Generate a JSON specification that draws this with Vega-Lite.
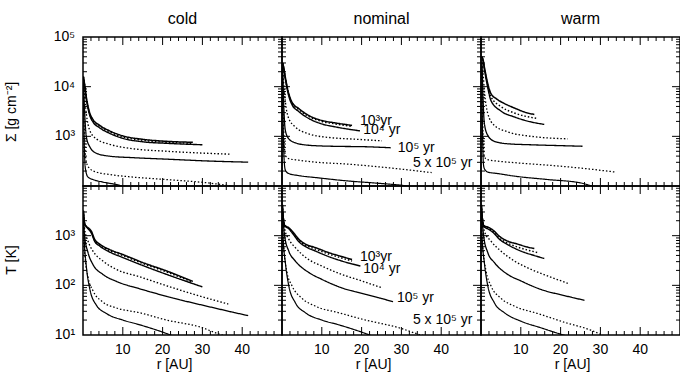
{
  "$schema": "https://vega.github.io/schema/vega-lite/v6.json",
  "padding": {"left": 4, "top": 0, "right": 0, "bottom": 0},
  "config": {
    "font": "Liberation Sans",
    "view": {"stroke": "black", "strokeWidth": 1.5},
    "tick": {"color": "black", "opacity": 1, "thickness": 1},
    "text": {"font": "Liberation Sans", "fontSize": 14, "color": "black"}
  },
  "datasets": {
    "xM": [{"v":10},{"v":20},{"v":30},{"v":40}],
    "xm": [{"v":2},{"v":4},{"v":6},{"v":8},{"v":12},{"v":14},{"v":16},{"v":18},{"v":22},{"v":24},{"v":26},{"v":28},{"v":32},{"v":34},{"v":36},{"v":38},{"v":42},{"v":44},{"v":46},{"v":48}],
    "ySM": [{"v":1000},{"v":10000}],
    "ySm": [{"v":200},{"v":300},{"v":400},{"v":500},{"v":600},{"v":700},{"v":800},{"v":900},{"v":2000},{"v":3000},{"v":4000},{"v":5000},{"v":6000},{"v":7000},{"v":8000},{"v":9000},{"v":20000},{"v":30000},{"v":40000},{"v":50000},{"v":60000},{"v":70000},{"v":80000},{"v":90000}],
    "yTM": [{"v":100},{"v":1000}],
    "yTm": [{"v":20},{"v":30},{"v":40},{"v":50},{"v":60},{"v":70},{"v":80},{"v":90},{"v":200},{"v":300},{"v":400},{"v":500},{"v":600},{"v":700},{"v":800},{"v":900},{"v":2000},{"v":3000},{"v":4000},{"v":5000},{"v":6000},{"v":7000},{"v":8000},{"v":9000}],
    "xl": [{"v":10,"t":"10"},{"v":20,"t":"20"},{"v":30,"t":"30"},{"v":40,"t":"40"}],
    "ySl": [{"v":1000,"t":"10³"},{"v":10000,"t":"10⁴"},{"v":100000,"t":"10⁵"}],
    "yTl": [{"v":10,"t":"10¹"},{"v":100,"t":"10²"},{"v":1000,"t":"10³"}],
    "cS": [
      {"s":"s1","x":0.1,"y":15850},{"s":"s1","x":0.4,"y":11220},{"s":"s1","x":0.84,"y":6166},{"s":"s1","x":1.7,"y":2951},{"s":"s1","x":2.5,"y":2188},{"s":"s1","x":4.2,"y":1660},{"s":"s1","x":6.7,"y":1288},{"s":"s1","x":10,"y":1023},{"s":"s1","x":15,"y":871},{"s":"s1","x":21,"y":794},{"s":"s1","x":27.6,"y":759},
      {"s":"d1","x":0.1,"y":15850},{"s":"d1","x":0.4,"y":10965},{"s":"d1","x":0.84,"y":5888},{"s":"d1","x":1.7,"y":2818},{"s":"d1","x":2.5,"y":2089},{"s":"d1","x":4.2,"y":1585},{"s":"d1","x":6.7,"y":1230},{"s":"d1","x":10,"y":977},{"s":"d1","x":15,"y":832},{"s":"d1","x":21,"y":759},{"s":"d1","x":27.6,"y":724},
      {"s":"s2","x":0.1,"y":15850},{"s":"s2","x":0.4,"y":10471},{"s":"s2","x":0.84,"y":5623},{"s":"s2","x":1.7,"y":2630},{"s":"s2","x":2.5,"y":1950},{"s":"s2","x":4.2,"y":1479},{"s":"s2","x":6.7,"y":1148},{"s":"s2","x":10,"y":912},{"s":"s2","x":15,"y":776},{"s":"s2","x":21,"y":724},{"s":"s2","x":30,"y":676},
      {"s":"d2","x":0.1,"y":14125},{"s":"d2","x":0.4,"y":6310},{"s":"d2","x":0.84,"y":2818},{"s":"d2","x":1.7,"y":1318},{"s":"d2","x":3.35,"y":891},{"s":"d2","x":6.7,"y":692},{"s":"d2","x":12.6,"y":562},{"s":"d2","x":21,"y":501},{"s":"d2","x":37,"y":437},
      {"s":"s3","x":0.1,"y":12589},{"s":"s3","x":0.4,"y":3162},{"s":"s3","x":0.84,"y":977},{"s":"s3","x":1.7,"y":617},{"s":"s3","x":3.35,"y":457},{"s":"s3","x":6.7,"y":398},{"s":"s3","x":12.6,"y":372},{"s":"s3","x":21,"y":347},{"s":"s3","x":32.7,"y":316},{"s":"s3","x":41.5,"y":302},
      {"s":"d3","x":0.1,"y":10000},{"s":"d3","x":0.3,"y":1585},{"s":"d3","x":0.84,"y":302},{"s":"d3","x":1.7,"y":224},{"s":"d3","x":3.35,"y":191},{"s":"d3","x":6.7,"y":170},{"s":"d3","x":12.6,"y":151},{"s":"d3","x":21,"y":135},{"s":"d3","x":32.7,"y":112},{"s":"d3","x":37,"y":100},{"s":"d3","x":38,"y":95},
      {"s":"s4","x":0.1,"y":7943},{"s":"s4","x":0.3,"y":794},{"s":"s4","x":0.6,"y":224},{"s":"s4","x":1.26,"y":151},{"s":"s4","x":2.5,"y":135},{"s":"s4","x":5,"y":120},{"s":"s4","x":8.4,"y":107},{"s":"s4","x":10,"y":100},{"s":"s4","x":11,"y":98}
    ],
    "nS": [
      {"s":"s1","x":0.15,"y":30200},{"s":"s1","x":0.4,"y":25119},{"s":"s1","x":0.84,"y":15488},{"s":"s1","x":1.7,"y":7244},{"s":"s1","x":2.5,"y":4898},{"s":"s1","x":4.2,"y":3631},{"s":"s1","x":6.7,"y":2630},{"s":"s1","x":10,"y":2089},{"s":"s1","x":13.4,"y":1862},{"s":"s1","x":17.6,"y":1660},
      {"s":"d1","x":0.15,"y":30200},{"s":"d1","x":0.4,"y":24547},{"s":"d1","x":0.84,"y":14791},{"s":"d1","x":1.7,"y":6918},{"s":"d1","x":2.5,"y":4677},{"s":"d1","x":4.2,"y":3467},{"s":"d1","x":6.7,"y":2512},{"s":"d1","x":10,"y":1995},{"s":"d1","x":13.4,"y":1778},{"s":"d1","x":17.6,"y":1585},
      {"s":"s2","x":0.15,"y":30200},{"s":"s2","x":0.4,"y":23988},{"s":"s2","x":0.84,"y":14125},{"s":"s2","x":1.7,"y":6457},{"s":"s2","x":2.5,"y":4365},{"s":"s2","x":4.2,"y":3162},{"s":"s2","x":6.7,"y":2291},{"s":"s2","x":10,"y":1778},{"s":"s2","x":13.4,"y":1549},{"s":"s2","x":19.6,"y":1288},
      {"s":"d2","x":0.15,"y":28184},{"s":"d2","x":0.4,"y":12589},{"s":"d2","x":0.84,"y":5012},{"s":"d2","x":1.7,"y":2291},{"s":"d2","x":3.35,"y":1549},{"s":"d2","x":6.7,"y":1122},{"s":"d2","x":12.6,"y":933},{"s":"d2","x":16.7,"y":891},{"s":"d2","x":25.1,"y":813},
      {"s":"s3","x":0.15,"y":25119},{"s":"s3","x":0.4,"y":5012},{"s":"s3","x":0.84,"y":1318},{"s":"s3","x":1.7,"y":891},{"s":"s3","x":3.35,"y":741},{"s":"s3","x":6.7,"y":661},{"s":"s3","x":12.6,"y":631},{"s":"s3","x":21,"y":617},{"s":"s3","x":27.3,"y":589},
      {"s":"d3","x":0.15,"y":19953},{"s":"d3","x":0.3,"y":3162},{"s":"d3","x":0.84,"y":417},{"s":"d3","x":1.7,"y":355},{"s":"d3","x":4.2,"y":331},{"s":"d3","x":8.4,"y":302},{"s":"d3","x":16.7,"y":275},{"s":"d3","x":25.1,"y":240},{"s":"d3","x":37.6,"y":186},
      {"s":"s4","x":0.15,"y":15849},{"s":"s4","x":0.3,"y":1585},{"s":"s4","x":0.6,"y":282},{"s":"s4","x":0.84,"y":209},{"s":"s4","x":1.7,"y":178},{"s":"s4","x":4.2,"y":162},{"s":"s4","x":8.4,"y":148},{"s":"s4","x":16.7,"y":126},{"s":"s4","x":25.1,"y":112},{"s":"s4","x":31.4,"y":100},{"s":"s4","x":33,"y":95}
    ],
    "wS": [
      {"s":"s1","x":0.25,"y":39811},{"s":"s1","x":0.5,"y":35481},{"s":"s1","x":0.84,"y":25119},{"s":"s1","x":1.7,"y":11482},{"s":"s1","x":2.5,"y":7244},{"s":"s1","x":3.8,"y":5754},{"s":"s1","x":5.9,"y":4571},{"s":"s1","x":8.4,"y":3715},{"s":"s1","x":10.9,"y":3090},{"s":"s1","x":13.4,"y":2754},
      {"s":"d1","x":0.25,"y":39811},{"s":"d1","x":0.5,"y":34674},{"s":"d1","x":0.84,"y":23988},{"s":"d1","x":1.7,"y":10471},{"s":"d1","x":2.5,"y":6310},{"s":"d1","x":5,"y":3981},{"s":"d1","x":8.4,"y":2951},{"s":"d1","x":14.2,"y":2291},
      {"s":"s2","x":0.25,"y":39811},{"s":"s2","x":0.5,"y":33884},{"s":"s2","x":0.84,"y":22909},{"s":"s2","x":1.7,"y":9550},{"s":"s2","x":2.5,"y":5248},{"s":"s2","x":5,"y":3236},{"s":"s2","x":8.4,"y":2455},{"s":"s2","x":12.6,"y":1950},{"s":"s2","x":15.9,"y":1738},
      {"s":"d2","x":0.25,"y":35481},{"s":"d2","x":0.5,"y":19953},{"s":"d2","x":0.84,"y":8511},{"s":"d2","x":1.7,"y":2884},{"s":"d2","x":3.35,"y":1660},{"s":"d2","x":6.7,"y":1230},{"s":"d2","x":12.6,"y":1000},{"s":"d2","x":21.8,"y":891},
      {"s":"s3","x":0.25,"y":31623},{"s":"s3","x":0.5,"y":6310},{"s":"s3","x":0.84,"y":1820},{"s":"s3","x":1.7,"y":1047},{"s":"s3","x":3.35,"y":794},{"s":"s3","x":6.7,"y":708},{"s":"s3","x":12.6,"y":676},{"s":"s3","x":21,"y":646},{"s":"s3","x":25.5,"y":631},
      {"s":"d3","x":0.2,"y":25119},{"s":"d3","x":0.4,"y":2512},{"s":"d3","x":0.84,"y":380},{"s":"d3","x":1.7,"y":339},{"s":"d3","x":4.2,"y":316},{"s":"d3","x":8.4,"y":295},{"s":"d3","x":16.7,"y":263},{"s":"d3","x":25.1,"y":229},{"s":"d3","x":33.7,"y":191},
      {"s":"s4","x":0.2,"y":19953},{"s":"s4","x":0.4,"y":1000},{"s":"s4","x":0.6,"y":282},{"s":"s4","x":0.84,"y":224},{"s":"s4","x":1.7,"y":191},{"s":"s4","x":4.2,"y":178},{"s":"s4","x":8.4,"y":158},{"s":"s4","x":16.7,"y":135},{"s":"s4","x":25.1,"y":115},{"s":"s4","x":28,"y":100},{"s":"s4","x":30,"y":93}
    ],
    "cT": [
      {"s":"s1","x":0.1,"y":3162},{"s":"s1","x":0.4,"y":1778},{"s":"s1","x":0.8,"y":1549},{"s":"s1","x":1.26,"y":1445},{"s":"s1","x":2.1,"y":1230},{"s":"s1","x":2.9,"y":851},{"s":"s1","x":4.2,"y":676},{"s":"s1","x":6.7,"y":525},{"s":"s1","x":10,"y":417},{"s":"s1","x":15,"y":288},{"s":"s1","x":21,"y":195},{"s":"s1","x":27.6,"y":120},
      {"s":"d1","x":0.1,"y":3162},{"s":"d1","x":0.4,"y":1778},{"s":"d1","x":0.8,"y":1549},{"s":"d1","x":1.26,"y":1413},{"s":"d1","x":2.1,"y":1175},{"s":"d1","x":2.9,"y":813},{"s":"d1","x":4.2,"y":646},{"s":"d1","x":6.7,"y":501},{"s":"d1","x":10,"y":398},{"s":"d1","x":15,"y":275},{"s":"d1","x":21,"y":186},{"s":"d1","x":27.6,"y":115},
      {"s":"s2","x":0.1,"y":3162},{"s":"s2","x":0.4,"y":1778},{"s":"s2","x":0.8,"y":1514},{"s":"s2","x":1.26,"y":1380},{"s":"s2","x":2.1,"y":1122},{"s":"s2","x":2.9,"y":776},{"s":"s2","x":4.2,"y":617},{"s":"s2","x":6.7,"y":468},{"s":"s2","x":10,"y":363},{"s":"s2","x":15,"y":251},{"s":"s2","x":21,"y":166},{"s":"s2","x":30,"y":93},
      {"s":"d2","x":0.1,"y":2818},{"s":"d2","x":0.42,"y":1349},{"s":"d2","x":1.26,"y":776},{"s":"d2","x":2.5,"y":490},{"s":"d2","x":5,"y":309},{"s":"d2","x":8.4,"y":209},{"s":"d2","x":14.3,"y":148},{"s":"d2","x":21,"y":98},{"s":"d2","x":29,"y":62},{"s":"d2","x":36.5,"y":42},
      {"s":"s3","x":0.1,"y":2512},{"s":"s3","x":0.42,"y":977},{"s":"s3","x":1.26,"y":457},{"s":"s3","x":2.5,"y":263},{"s":"s3","x":5,"y":166},{"s":"s3","x":8.4,"y":120},{"s":"s3","x":14.3,"y":85},{"s":"s3","x":21,"y":60},{"s":"s3","x":32.7,"y":35.5},{"s":"s3","x":41.5,"y":24.5},
      {"s":"d3","x":0.1,"y":1995},{"s":"d3","x":0.42,"y":457},{"s":"d3","x":1.26,"y":145},{"s":"d3","x":2.5,"y":78},{"s":"d3","x":5,"y":46},{"s":"d3","x":8.4,"y":35},{"s":"d3","x":14.3,"y":28},{"s":"d3","x":21,"y":20},{"s":"d3","x":29.4,"y":14.5},{"s":"d3","x":35,"y":10},{"s":"d3","x":37,"y":9.2},
      {"s":"s4","x":0.1,"y":1995},{"s":"s4","x":0.25,"y":977},{"s":"s4","x":0.84,"y":240},{"s":"s4","x":1.7,"y":85},{"s":"s4","x":3.35,"y":40},{"s":"s4","x":5.9,"y":27},{"s":"s4","x":10,"y":20},{"s":"s4","x":14.3,"y":16},{"s":"s4","x":21,"y":10.7},{"s":"s4","x":23,"y":9.3}
    ],
    "nT": [
      {"s":"s1","x":0.1,"y":4169},{"s":"s1","x":0.4,"y":1995},{"s":"s1","x":0.67,"y":1622},{"s":"s1","x":1.7,"y":1445},{"s":"s1","x":2.9,"y":1148},{"s":"s1","x":4.2,"y":851},{"s":"s1","x":5.9,"y":676},{"s":"s1","x":8.4,"y":575},{"s":"s1","x":11.7,"y":457},{"s":"s1","x":15,"y":380},{"s":"s1","x":17.6,"y":331},
      {"s":"d1","x":0.1,"y":4169},{"s":"d1","x":0.4,"y":1995},{"s":"d1","x":0.67,"y":1622},{"s":"d1","x":1.7,"y":1413},{"s":"d1","x":2.9,"y":1096},{"s":"d1","x":4.2,"y":813},{"s":"d1","x":5.9,"y":646},{"s":"d1","x":8.4,"y":537},{"s":"d1","x":11.7,"y":427},{"s":"d1","x":15,"y":355},{"s":"d1","x":17.6,"y":309},
      {"s":"s2","x":0.1,"y":4169},{"s":"s2","x":0.4,"y":1995},{"s":"s2","x":0.67,"y":1585},{"s":"s2","x":1.7,"y":1380},{"s":"s2","x":2.9,"y":1047},{"s":"s2","x":4.2,"y":759},{"s":"s2","x":5.9,"y":603},{"s":"s2","x":8.4,"y":490},{"s":"s2","x":11.7,"y":380},{"s":"s2","x":15,"y":309},{"s":"s2","x":19.7,"y":245},
      {"s":"d2","x":0.1,"y":3548},{"s":"d2","x":0.67,"y":1349},{"s":"d2","x":1.7,"y":851},{"s":"d2","x":3.35,"y":575},{"s":"d2","x":6.7,"y":331},{"s":"d2","x":10,"y":245},{"s":"d2","x":15,"y":166},{"s":"d2","x":20,"y":123},{"s":"d2","x":25.1,"y":89},
      {"s":"s3","x":0.1,"y":3162},{"s":"s3","x":0.67,"y":977},{"s":"s3","x":1.7,"y":490},{"s":"s3","x":3.35,"y":309},{"s":"s3","x":6.7,"y":182},{"s":"s3","x":10,"y":132},{"s":"s3","x":15,"y":89},{"s":"s3","x":21,"y":66},{"s":"s3","x":27.9,"y":47},
      {"s":"d3","x":0.1,"y":2512},{"s":"d3","x":0.42,"y":617},{"s":"d3","x":1.26,"y":182},{"s":"d3","x":2.5,"y":98},{"s":"d3","x":5,"y":55},{"s":"d3","x":8.4,"y":38},{"s":"d3","x":14.3,"y":28},{"s":"d3","x":21,"y":20},{"s":"d3","x":29.4,"y":14},{"s":"d3","x":35,"y":10},{"s":"d3","x":37,"y":9.2},
      {"s":"s4","x":0.1,"y":2239},{"s":"s4","x":0.25,"y":977},{"s":"s4","x":0.84,"y":288},{"s":"s4","x":1.7,"y":98},{"s":"s4","x":3.35,"y":44.7},{"s":"s4","x":5.9,"y":28},{"s":"s4","x":10,"y":20},{"s":"s4","x":14.3,"y":16},{"s":"s4","x":21,"y":10.7},{"s":"s4","x":23,"y":9.3}
    ],
    "wT": [
      {"s":"s1","x":0.1,"y":4169},{"s":"s1","x":0.4,"y":1995},{"s":"s1","x":0.67,"y":1622},{"s":"s1","x":2.1,"y":1445},{"s":"s1","x":3.35,"y":1230},{"s":"s1","x":4.6,"y":977},{"s":"s1","x":6.7,"y":776},{"s":"s1","x":9.2,"y":676},{"s":"s1","x":11.7,"y":589},{"s":"s1","x":13.4,"y":550},
      {"s":"d1","x":0.1,"y":4169},{"s":"d1","x":0.4,"y":1995},{"s":"d1","x":0.67,"y":1585},{"s":"d1","x":2.1,"y":1380},{"s":"d1","x":3.35,"y":1148},{"s":"d1","x":4.6,"y":891},{"s":"d1","x":6.7,"y":708},{"s":"d1","x":9.2,"y":589},{"s":"d1","x":11.7,"y":513},{"s":"d1","x":14.2,"y":457},
      {"s":"s2","x":0.1,"y":4169},{"s":"s2","x":0.4,"y":1995},{"s":"s2","x":0.67,"y":1549},{"s":"s2","x":2.1,"y":1318},{"s":"s2","x":3.35,"y":1096},{"s":"s2","x":4.6,"y":851},{"s":"s2","x":6.7,"y":661},{"s":"s2","x":10,"y":490},{"s":"s2","x":13.4,"y":398},{"s":"s2","x":15.9,"y":347},
      {"s":"d2","x":0.1,"y":3548},{"s":"d2","x":0.84,"y":1230},{"s":"d2","x":2.5,"y":776},{"s":"d2","x":5,"y":490},{"s":"d2","x":8.4,"y":309},{"s":"d2","x":12.6,"y":209},{"s":"d2","x":16.7,"y":155},{"s":"d2","x":21.8,"y":110},
      {"s":"s3","x":0.1,"y":3162},{"s":"s3","x":0.67,"y":977},{"s":"s3","x":1.7,"y":457},{"s":"s3","x":3.35,"y":288},{"s":"s3","x":6.7,"y":166},{"s":"s3","x":10,"y":123},{"s":"s3","x":15,"y":83},{"s":"s3","x":21,"y":62},{"s":"s3","x":26,"y":50},
      {"s":"d3","x":0.1,"y":2512},{"s":"d3","x":0.42,"y":617},{"s":"d3","x":1.26,"y":195},{"s":"d3","x":2.5,"y":98},{"s":"d3","x":5,"y":55},{"s":"d3","x":8.4,"y":38},{"s":"d3","x":14.3,"y":27},{"s":"d3","x":21,"y":18},{"s":"d3","x":27.6,"y":12.5},{"s":"d3","x":31,"y":9.5},
      {"s":"s4","x":0.1,"y":2239},{"s":"s4","x":0.25,"y":977},{"s":"s4","x":0.84,"y":288},{"s":"s4","x":1.7,"y":98},{"s":"s4","x":3.35,"y":44.7},{"s":"s4","x":5.9,"y":28},{"s":"s4","x":10,"y":19},{"s":"s4","x":15,"y":14},{"s":"s4","x":19,"y":11},{"s":"s4","x":22,"y":9.3}
    ],
    "nLS": [
      {"t":"10³yr","x":19.6,"y":1995},{"t":"10⁴ yr","x":20.4,"y":1318},{"t":"10⁵ yr","x":29.1,"y":589},{"t":"5 x 10⁵ yr","x":32.9,"y":288}
    ],
    "nLT": [
      {"t":"10³yr","x":19.6,"y":372},{"t":"10⁴ yr","x":20.4,"y":214},{"t":"10⁵ yr","x":28.9,"y":56},{"t":"5 x 10⁵ yr","x":32.9,"y":20}
    ]
  },
  "columns": 3,
  "spacing": 0,
  "bounds": "flush",
  "concat": [
    {"width": 199, "height": 37, "data": {"values": [{"m": "cold"}]}, "mark": {"type": "text", "fontSize": 16}, "encoding": {"text": {"field": "m"}}},
    {"width": 199, "height": 37, "data": {"values": [{"m": "nominal"}]}, "mark": {"type": "text", "fontSize": 16}, "encoding": {"text": {"field": "m"}}},
    {"width": 199, "height": 37, "data": {"values": [{"m": "warm"}]}, "mark": {"type": "text", "fontSize": 16}, "encoding": {"text": {"field": "m"}}},

    {"width": 199, "height": 149,
     "layer": [
      {"data": {"name": "cS"}, "mark": {"type": "line", "color": "black", "clip": true, "interpolate": "monotone"},
       "encoding": {
        "x": {"field": "x", "type": "quantitative", "scale": {"domain": [0, 50]}, "axis": null},
        "y": {"field": "y", "type": "quantitative", "scale": {"type": "log", "domain": [100, 100000]}, "axis": null},
        "strokeDash": {"field": "s", "type": "nominal", "scale": {"domain": ["s1","d1","s2","d2","s3","d3","s4"], "range": [[1,0],[1.5,2],[1,0],[1.5,2],[1,0],[1.5,2],[1,0]]}, "legend": null},
        "strokeWidth": {"field": "s", "type": "nominal", "scale": {"domain": ["s1","d1","s2","d2","s3","d3","s4"], "range": [1.5,1.2,1.5,1.2,1.5,1.2,1.5]}, "legend": null}
       }},
      {"data": {"name": "ySl"}, "mark": {"type": "text", "align": "right", "baseline": "middle"}, "encoding": {"x": {"datum": -2, "type": "quantitative", "axis": null}, "y": {"field": "v", "type": "quantitative", "axis": null}, "text": {"field": "t"}}},
      {"data": {"values": [{"t": "Σ [g cm⁻²]"}]}, "mark": {"type": "text", "angle": 270, "align": "center", "baseline": "middle"}, "encoding": {"x": {"datum": -17.8, "type": "quantitative", "axis": null}, "y": {"datum": 3100, "type": "quantitative", "axis": null}, "text": {"field": "t"}}},
      {"data": {"name": "xM"}, "mark": {"type": "tick", "orient": "vertical", "size": 8}, "encoding": {"x": {"field": "v", "type": "quantitative", "axis": null}, "y": {"datum": 83000, "type": "quantitative", "axis": null}}},
      {"data": {"name": "xm"}, "mark": {"type": "tick", "orient": "vertical", "size": 4}, "encoding": {"x": {"field": "v", "type": "quantitative", "axis": null}, "y": {"datum": 91150, "type": "quantitative", "axis": null}}},
      {"data": {"name": "xM"}, "mark": {"type": "tick", "orient": "vertical", "size": 8}, "encoding": {"x": {"field": "v", "type": "quantitative", "axis": null}, "y": {"datum": 120.4, "type": "quantitative", "axis": null}}},
      {"data": {"name": "xm"}, "mark": {"type": "tick", "orient": "vertical", "size": 4}, "encoding": {"x": {"field": "v", "type": "quantitative", "axis": null}, "y": {"datum": 109.7, "type": "quantitative", "axis": null}}},
      {"data": {"name": "ySM"}, "mark": {"type": "tick", "orient": "horizontal", "size": 8}, "encoding": {"y": {"field": "v", "type": "quantitative", "axis": null}, "x": {"datum": 1.0, "type": "quantitative", "axis": null}}},
      {"data": {"name": "ySm"}, "mark": {"type": "tick", "orient": "horizontal", "size": 4}, "encoding": {"y": {"field": "v", "type": "quantitative", "axis": null}, "x": {"datum": 0.5, "type": "quantitative", "axis": null}}},
      {"data": {"name": "ySM"}, "mark": {"type": "tick", "orient": "horizontal", "size": 8}, "encoding": {"y": {"field": "v", "type": "quantitative", "axis": null}, "x": {"datum": 49.0, "type": "quantitative", "axis": null}}},
      {"data": {"name": "ySm"}, "mark": {"type": "tick", "orient": "horizontal", "size": 4}, "encoding": {"y": {"field": "v", "type": "quantitative", "axis": null}, "x": {"datum": 49.5, "type": "quantitative", "axis": null}}}
     ]
    },

    {"width": 199, "height": 149,
     "layer": [
      {"data": {"name": "nS"}, "mark": {"type": "line", "color": "black", "clip": true, "interpolate": "monotone"},
       "encoding": {
        "x": {"field": "x", "type": "quantitative", "scale": {"domain": [0, 50]}, "axis": null},
        "y": {"field": "y", "type": "quantitative", "scale": {"type": "log", "domain": [100, 100000]}, "axis": null},
        "strokeDash": {"field": "s", "type": "nominal", "scale": {"domain": ["s1","d1","s2","d2","s3","d3","s4"], "range": [[1,0],[1.5,2],[1,0],[1.5,2],[1,0],[1.5,2],[1,0]]}, "legend": null},
        "strokeWidth": {"field": "s", "type": "nominal", "scale": {"domain": ["s1","d1","s2","d2","s3","d3","s4"], "range": [1.5,1.2,1.5,1.2,1.5,1.2,1.5]}, "legend": null}
       }},
      {"data": {"name": "nLS"}, "mark": {"type": "text", "align": "left", "baseline": "middle"},
       "encoding": {"x": {"field": "x", "type": "quantitative", "axis": null}, "y": {"field": "y", "type": "quantitative", "axis": null}, "text": {"field": "t"}}},
      {"data": {"name": "xM"}, "mark": {"type": "tick", "orient": "vertical", "size": 8}, "encoding": {"x": {"field": "v", "type": "quantitative", "axis": null}, "y": {"datum": 83000, "type": "quantitative", "axis": null}}},
      {"data": {"name": "xm"}, "mark": {"type": "tick", "orient": "vertical", "size": 4}, "encoding": {"x": {"field": "v", "type": "quantitative", "axis": null}, "y": {"datum": 91150, "type": "quantitative", "axis": null}}},
      {"data": {"name": "xM"}, "mark": {"type": "tick", "orient": "vertical", "size": 8}, "encoding": {"x": {"field": "v", "type": "quantitative", "axis": null}, "y": {"datum": 120.4, "type": "quantitative", "axis": null}}},
      {"data": {"name": "xm"}, "mark": {"type": "tick", "orient": "vertical", "size": 4}, "encoding": {"x": {"field": "v", "type": "quantitative", "axis": null}, "y": {"datum": 109.7, "type": "quantitative", "axis": null}}},
      {"data": {"name": "ySM"}, "mark": {"type": "tick", "orient": "horizontal", "size": 8}, "encoding": {"y": {"field": "v", "type": "quantitative", "axis": null}, "x": {"datum": 1.0, "type": "quantitative", "axis": null}}},
      {"data": {"name": "ySm"}, "mark": {"type": "tick", "orient": "horizontal", "size": 4}, "encoding": {"y": {"field": "v", "type": "quantitative", "axis": null}, "x": {"datum": 0.5, "type": "quantitative", "axis": null}}},
      {"data": {"name": "ySM"}, "mark": {"type": "tick", "orient": "horizontal", "size": 8}, "encoding": {"y": {"field": "v", "type": "quantitative", "axis": null}, "x": {"datum": 49.0, "type": "quantitative", "axis": null}}},
      {"data": {"name": "ySm"}, "mark": {"type": "tick", "orient": "horizontal", "size": 4}, "encoding": {"y": {"field": "v", "type": "quantitative", "axis": null}, "x": {"datum": 49.5, "type": "quantitative", "axis": null}}}
     ]
    },

    {"width": 199, "height": 149,
     "layer": [
      {"data": {"name": "wS"}, "mark": {"type": "line", "color": "black", "clip": true, "interpolate": "monotone"},
       "encoding": {
        "x": {"field": "x", "type": "quantitative", "scale": {"domain": [0, 50]}, "axis": null},
        "y": {"field": "y", "type": "quantitative", "scale": {"type": "log", "domain": [100, 100000]}, "axis": null},
        "strokeDash": {"field": "s", "type": "nominal", "scale": {"domain": ["s1","d1","s2","d2","s3","d3","s4"], "range": [[1,0],[1.5,2],[1,0],[1.5,2],[1,0],[1.5,2],[1,0]]}, "legend": null},
        "strokeWidth": {"field": "s", "type": "nominal", "scale": {"domain": ["s1","d1","s2","d2","s3","d3","s4"], "range": [1.5,1.2,1.5,1.2,1.5,1.2,1.5]}, "legend": null}
       }},
      {"data": {"name": "xM"}, "mark": {"type": "tick", "orient": "vertical", "size": 8}, "encoding": {"x": {"field": "v", "type": "quantitative", "axis": null}, "y": {"datum": 83000, "type": "quantitative", "axis": null}}},
      {"data": {"name": "xm"}, "mark": {"type": "tick", "orient": "vertical", "size": 4}, "encoding": {"x": {"field": "v", "type": "quantitative", "axis": null}, "y": {"datum": 91150, "type": "quantitative", "axis": null}}},
      {"data": {"name": "xM"}, "mark": {"type": "tick", "orient": "vertical", "size": 8}, "encoding": {"x": {"field": "v", "type": "quantitative", "axis": null}, "y": {"datum": 120.4, "type": "quantitative", "axis": null}}},
      {"data": {"name": "xm"}, "mark": {"type": "tick", "orient": "vertical", "size": 4}, "encoding": {"x": {"field": "v", "type": "quantitative", "axis": null}, "y": {"datum": 109.7, "type": "quantitative", "axis": null}}},
      {"data": {"name": "ySM"}, "mark": {"type": "tick", "orient": "horizontal", "size": 8}, "encoding": {"y": {"field": "v", "type": "quantitative", "axis": null}, "x": {"datum": 1.0, "type": "quantitative", "axis": null}}},
      {"data": {"name": "ySm"}, "mark": {"type": "tick", "orient": "horizontal", "size": 4}, "encoding": {"y": {"field": "v", "type": "quantitative", "axis": null}, "x": {"datum": 0.5, "type": "quantitative", "axis": null}}},
      {"data": {"name": "ySM"}, "mark": {"type": "tick", "orient": "horizontal", "size": 8}, "encoding": {"y": {"field": "v", "type": "quantitative", "axis": null}, "x": {"datum": 49.0, "type": "quantitative", "axis": null}}},
      {"data": {"name": "ySm"}, "mark": {"type": "tick", "orient": "horizontal", "size": 4}, "encoding": {"y": {"field": "v", "type": "quantitative", "axis": null}, "x": {"datum": 49.5, "type": "quantitative", "axis": null}}}
     ]
    },

    {"width": 199, "height": 149,
     "layer": [
      {"data": {"name": "cT"}, "mark": {"type": "line", "color": "black", "clip": true, "interpolate": "monotone"},
       "encoding": {
        "x": {"field": "x", "type": "quantitative", "scale": {"domain": [0, 50]}, "axis": null},
        "y": {"field": "y", "type": "quantitative", "scale": {"type": "log", "domain": [10, 10000]}, "axis": null},
        "strokeDash": {"field": "s", "type": "nominal", "scale": {"domain": ["s1","d1","s2","d2","s3","d3","s4"], "range": [[1,0],[1.5,2],[1,0],[1.5,2],[1,0],[1.5,2],[1,0]]}, "legend": null},
        "strokeWidth": {"field": "s", "type": "nominal", "scale": {"domain": ["s1","d1","s2","d2","s3","d3","s4"], "range": [1.5,1.2,1.5,1.2,1.5,1.2,1.5]}, "legend": null}
       }},
      {"data": {"name": "yTl"}, "mark": {"type": "text", "align": "right", "baseline": "middle"}, "encoding": {"x": {"datum": -2, "type": "quantitative", "axis": null}, "y": {"field": "v", "type": "quantitative", "axis": null}, "text": {"field": "t"}}},
      {"data": {"values": [{"t": "T [K]"}]}, "mark": {"type": "text", "angle": 270, "align": "center", "baseline": "middle"}, "encoding": {"x": {"datum": -17.8, "type": "quantitative", "axis": null}, "y": {"datum": 324, "type": "quantitative", "axis": null}, "text": {"field": "t"}}},
      {"data": {"name": "xl"}, "mark": {"type": "text", "align": "center", "baseline": "top"}, "encoding": {"x": {"field": "v", "type": "quantitative", "axis": null}, "y": {"datum": 7.0, "type": "quantitative", "axis": null}, "text": {"field": "t"}}},
      {"data": {"values": [{"t": "r  [AU]"}]}, "mark": {"type": "text", "align": "center", "baseline": "top"}, "encoding": {"x": {"datum": 23, "type": "quantitative", "axis": null}, "y": {"datum": 3.45, "type": "quantitative", "axis": null}, "text": {"field": "t"}}},
      {"data": {"name": "xM"}, "mark": {"type": "tick", "orient": "vertical", "size": 8}, "encoding": {"x": {"field": "v", "type": "quantitative", "axis": null}, "y": {"datum": 8306, "type": "quantitative", "axis": null}}},
      {"data": {"name": "xm"}, "mark": {"type": "tick", "orient": "vertical", "size": 4}, "encoding": {"x": {"field": "v", "type": "quantitative", "axis": null}, "y": {"datum": 9115, "type": "quantitative", "axis": null}}},
      {"data": {"name": "xM"}, "mark": {"type": "tick", "orient": "vertical", "size": 8}, "encoding": {"x": {"field": "v", "type": "quantitative", "axis": null}, "y": {"datum": 12.04, "type": "quantitative", "axis": null}}},
      {"data": {"name": "xm"}, "mark": {"type": "tick", "orient": "vertical", "size": 4}, "encoding": {"x": {"field": "v", "type": "quantitative", "axis": null}, "y": {"datum": 10.97, "type": "quantitative", "axis": null}}},
      {"data": {"name": "yTM"}, "mark": {"type": "tick", "orient": "horizontal", "size": 8}, "encoding": {"y": {"field": "v", "type": "quantitative", "axis": null}, "x": {"datum": 1.0, "type": "quantitative", "axis": null}}},
      {"data": {"name": "yTm"}, "mark": {"type": "tick", "orient": "horizontal", "size": 4}, "encoding": {"y": {"field": "v", "type": "quantitative", "axis": null}, "x": {"datum": 0.5, "type": "quantitative", "axis": null}}},
      {"data": {"name": "yTM"}, "mark": {"type": "tick", "orient": "horizontal", "size": 8}, "encoding": {"y": {"field": "v", "type": "quantitative", "axis": null}, "x": {"datum": 49.0, "type": "quantitative", "axis": null}}},
      {"data": {"name": "yTm"}, "mark": {"type": "tick", "orient": "horizontal", "size": 4}, "encoding": {"y": {"field": "v", "type": "quantitative", "axis": null}, "x": {"datum": 49.5, "type": "quantitative", "axis": null}}}
     ]
    },

    {"width": 199, "height": 149,
     "layer": [
      {"data": {"name": "nT"}, "mark": {"type": "line", "color": "black", "clip": true, "interpolate": "monotone"},
       "encoding": {
        "x": {"field": "x", "type": "quantitative", "scale": {"domain": [0, 50]}, "axis": null},
        "y": {"field": "y", "type": "quantitative", "scale": {"type": "log", "domain": [10, 10000]}, "axis": null},
        "strokeDash": {"field": "s", "type": "nominal", "scale": {"domain": ["s1","d1","s2","d2","s3","d3","s4"], "range": [[1,0],[1.5,2],[1,0],[1.5,2],[1,0],[1.5,2],[1,0]]}, "legend": null},
        "strokeWidth": {"field": "s", "type": "nominal", "scale": {"domain": ["s1","d1","s2","d2","s3","d3","s4"], "range": [1.5,1.2,1.5,1.2,1.5,1.2,1.5]}, "legend": null}
       }},
      {"data": {"name": "nLT"}, "mark": {"type": "text", "align": "left", "baseline": "middle"},
       "encoding": {"x": {"field": "x", "type": "quantitative", "axis": null}, "y": {"field": "y", "type": "quantitative", "axis": null}, "text": {"field": "t"}}},
      {"data": {"name": "xl"}, "mark": {"type": "text", "align": "center", "baseline": "top"}, "encoding": {"x": {"field": "v", "type": "quantitative", "axis": null}, "y": {"datum": 7.0, "type": "quantitative", "axis": null}, "text": {"field": "t"}}},
      {"data": {"values": [{"t": "r  [AU]"}]}, "mark": {"type": "text", "align": "center", "baseline": "top"}, "encoding": {"x": {"datum": 23, "type": "quantitative", "axis": null}, "y": {"datum": 3.45, "type": "quantitative", "axis": null}, "text": {"field": "t"}}},
      {"data": {"name": "xM"}, "mark": {"type": "tick", "orient": "vertical", "size": 8}, "encoding": {"x": {"field": "v", "type": "quantitative", "axis": null}, "y": {"datum": 8306, "type": "quantitative", "axis": null}}},
      {"data": {"name": "xm"}, "mark": {"type": "tick", "orient": "vertical", "size": 4}, "encoding": {"x": {"field": "v", "type": "quantitative", "axis": null}, "y": {"datum": 9115, "type": "quantitative", "axis": null}}},
      {"data": {"name": "xM"}, "mark": {"type": "tick", "orient": "vertical", "size": 8}, "encoding": {"x": {"field": "v", "type": "quantitative", "axis": null}, "y": {"datum": 12.04, "type": "quantitative", "axis": null}}},
      {"data": {"name": "xm"}, "mark": {"type": "tick", "orient": "vertical", "size": 4}, "encoding": {"x": {"field": "v", "type": "quantitative", "axis": null}, "y": {"datum": 10.97, "type": "quantitative", "axis": null}}},
      {"data": {"name": "yTM"}, "mark": {"type": "tick", "orient": "horizontal", "size": 8}, "encoding": {"y": {"field": "v", "type": "quantitative", "axis": null}, "x": {"datum": 1.0, "type": "quantitative", "axis": null}}},
      {"data": {"name": "yTm"}, "mark": {"type": "tick", "orient": "horizontal", "size": 4}, "encoding": {"y": {"field": "v", "type": "quantitative", "axis": null}, "x": {"datum": 0.5, "type": "quantitative", "axis": null}}},
      {"data": {"name": "yTM"}, "mark": {"type": "tick", "orient": "horizontal", "size": 8}, "encoding": {"y": {"field": "v", "type": "quantitative", "axis": null}, "x": {"datum": 49.0, "type": "quantitative", "axis": null}}},
      {"data": {"name": "yTm"}, "mark": {"type": "tick", "orient": "horizontal", "size": 4}, "encoding": {"y": {"field": "v", "type": "quantitative", "axis": null}, "x": {"datum": 49.5, "type": "quantitative", "axis": null}}}
     ]
    },

    {"width": 199, "height": 149,
     "layer": [
      {"data": {"name": "wT"}, "mark": {"type": "line", "color": "black", "clip": true, "interpolate": "monotone"},
       "encoding": {
        "x": {"field": "x", "type": "quantitative", "scale": {"domain": [0, 50]}, "axis": null},
        "y": {"field": "y", "type": "quantitative", "scale": {"type": "log", "domain": [10, 10000]}, "axis": null},
        "strokeDash": {"field": "s", "type": "nominal", "scale": {"domain": ["s1","d1","s2","d2","s3","d3","s4"], "range": [[1,0],[1.5,2],[1,0],[1.5,2],[1,0],[1.5,2],[1,0]]}, "legend": null},
        "strokeWidth": {"field": "s", "type": "nominal", "scale": {"domain": ["s1","d1","s2","d2","s3","d3","s4"], "range": [1.5,1.2,1.5,1.2,1.5,1.2,1.5]}, "legend": null}
       }},
      {"data": {"name": "xl"}, "mark": {"type": "text", "align": "center", "baseline": "top"}, "encoding": {"x": {"field": "v", "type": "quantitative", "axis": null}, "y": {"datum": 7.0, "type": "quantitative", "axis": null}, "text": {"field": "t"}}},
      {"data": {"values": [{"t": "r  [AU]"}]}, "mark": {"type": "text", "align": "center", "baseline": "top"}, "encoding": {"x": {"datum": 23, "type": "quantitative", "axis": null}, "y": {"datum": 3.45, "type": "quantitative", "axis": null}, "text": {"field": "t"}}},
      {"data": {"name": "xM"}, "mark": {"type": "tick", "orient": "vertical", "size": 8}, "encoding": {"x": {"field": "v", "type": "quantitative", "axis": null}, "y": {"datum": 8306, "type": "quantitative", "axis": null}}},
      {"data": {"name": "xm"}, "mark": {"type": "tick", "orient": "vertical", "size": 4}, "encoding": {"x": {"field": "v", "type": "quantitative", "axis": null}, "y": {"datum": 9115, "type": "quantitative", "axis": null}}},
      {"data": {"name": "xM"}, "mark": {"type": "tick", "orient": "vertical", "size": 8}, "encoding": {"x": {"field": "v", "type": "quantitative", "axis": null}, "y": {"datum": 12.04, "type": "quantitative", "axis": null}}},
      {"data": {"name": "xm"}, "mark": {"type": "tick", "orient": "vertical", "size": 4}, "encoding": {"x": {"field": "v", "type": "quantitative", "axis": null}, "y": {"datum": 10.97, "type": "quantitative", "axis": null}}},
      {"data": {"name": "yTM"}, "mark": {"type": "tick", "orient": "horizontal", "size": 8}, "encoding": {"y": {"field": "v", "type": "quantitative", "axis": null}, "x": {"datum": 1.0, "type": "quantitative", "axis": null}}},
      {"data": {"name": "yTm"}, "mark": {"type": "tick", "orient": "horizontal", "size": 4}, "encoding": {"y": {"field": "v", "type": "quantitative", "axis": null}, "x": {"datum": 0.5, "type": "quantitative", "axis": null}}},
      {"data": {"name": "yTM"}, "mark": {"type": "tick", "orient": "horizontal", "size": 8}, "encoding": {"y": {"field": "v", "type": "quantitative", "axis": null}, "x": {"datum": 49.0, "type": "quantitative", "axis": null}}},
      {"data": {"name": "yTm"}, "mark": {"type": "tick", "orient": "horizontal", "size": 4}, "encoding": {"y": {"field": "v", "type": "quantitative", "axis": null}, "x": {"datum": 49.5, "type": "quantitative", "axis": null}}}
     ]
    }
  ]
}
